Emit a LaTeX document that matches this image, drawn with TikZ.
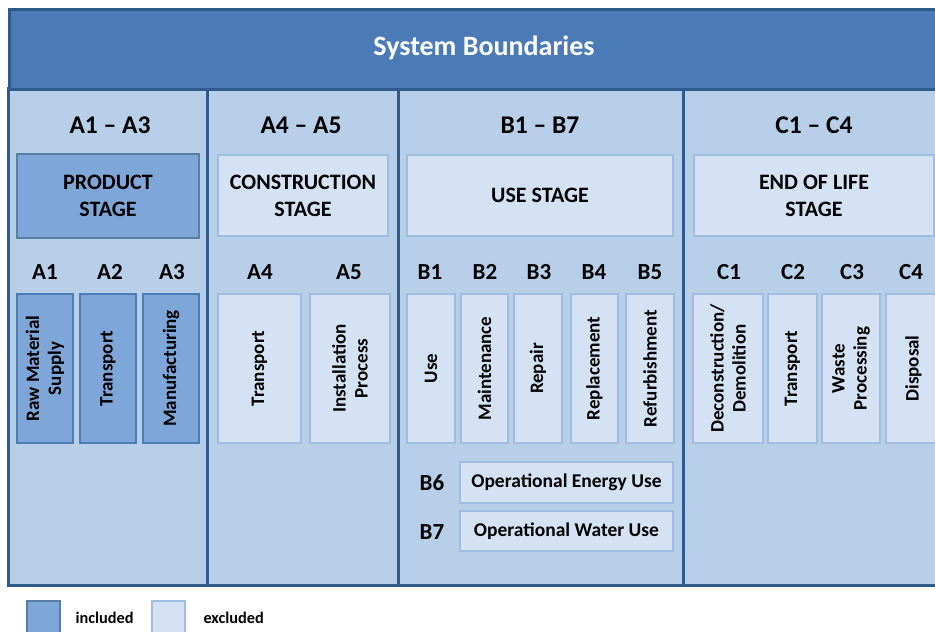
\documentclass[tikz,border=0pt]{standalone}
\usepackage{fontspec}
\setmainfont{Carlito}
\definecolor{frame}{HTML}{2F5B8C}
\definecolor{hdrfill}{HTML}{4B7BB6}
\definecolor{colbg}{HTML}{B8CFEA}
\definecolor{incfill}{HTML}{7EA6D8}
\definecolor{incdraw}{HTML}{4E7CB5}
\definecolor{excfill}{HTML}{D4E2F3}
\definecolor{excdraw}{HTML}{9FBDE0}
\begin{document}
\begin{tikzpicture}[x=1pt,y=-1pt,
  colbox/.style={draw=frame, fill=colbg, line width=3pt, anchor=north west, inner sep=0pt, outer sep=0pt},
  inc/.style={draw=incdraw, fill=incfill, line width=1.5pt, anchor=north west, inner sep=0pt, outer sep=0pt},
  exc/.style={draw=excdraw, fill=excfill, line width=1.5pt, anchor=north west, inner sep=0pt, outer sep=0pt},
  title/.style={font=\fontsize{25.5}{28}\selectfont\bfseries, text=black},
  stagetxt/.style={font=\fontsize{22}{27}\selectfont\bfseries, align=center},
  code/.style={font=\fontsize{23}{26}\selectfont\bfseries},
  vtxt/.style={font=\fontsize{19}{22}\selectfont\bfseries, align=center, rotate=90},
  htxt/.style={font=\fontsize{19.5}{22}\selectfont\bfseries},
  legtxt/.style={font=\fontsize{16.3}{19}\selectfont\bfseries, anchor=west}]
\useasboundingbox (0,0) rectangle (935,632);
\fill[white] (0,0) rectangle (935,632);
% columns
\node[colbox, minimum width=199, minimum height=497] (c1) at (8,88) {};
\node[colbox, minimum width=191, minimum height=497] (c2) at (207,88) {};
\node[colbox, minimum width=285, minimum height=497] (c3) at (398,88) {};
\node[colbox, minimum width=260, minimum height=497] (c4) at (683,88) {};
% header
\node[draw=frame, fill=hdrfill, line width=3pt, anchor=north west, minimum width=935, minimum height=80, inner sep=0pt] (hdr) at (8,8) {};
\node[font=\fontsize{28}{32}\selectfont\bfseries, text=white] (hdrt) at (484,48) {System Boundaries};
% column titles
\node[title] (t1) at (110,125) {A1 -- A3};
\node[title] (t2) at (301,125) {A4 -- A5};
\node[title] (t3) at (540,125) {B1 -- B7};
\node[title] (t4) at (814,125) {C1 -- C4};
% stage boxes
\node[inc, draw=frame!80, minimum width=182, minimum height=84] (s1) at (17,154) {};
\node[stagetxt] at (s1) {PRODUCT\\STAGE};
\node[exc, minimum width=170, minimum height=81] (s2) at (218,155) {};
\node[stagetxt] at (s2) {CONSTRUCTION\\STAGE};
\node[exc, minimum width=266, minimum height=81] (s3) at (407,155) {};
\node[stagetxt] at (s3) {USE STAGE};
\node[exc, minimum width=240, minimum height=81] (s4) at (694,155) {};
\node[stagetxt] at (s4) {END OF LIFE\\STAGE};
% module codes
\node[code] (la1) at (45,272) {A1};
\node[code] (la2) at (110,272) {A2};
\node[code] (la3) at (172,272) {A3};
\node[code] (la4) at (260,272) {A4};
\node[code] (la5) at (349,272) {A5};
\node[code] (lb1) at (430,272) {B1};
\node[code] (lb2) at (485,272) {B2};
\node[code] (lb3) at (539,272) {B3};
\node[code] (lb4) at (594,272) {B4};
\node[code] (lb5) at (650,272) {B5};
\node[code] (lc1) at (729,272) {C1};
\node[code] (lc2) at (793,272) {C2};
\node[code] (lc3) at (852,272) {C3};
\node[code] (lc4) at (911,272) {C4};
% module boxes A
\node[inc, minimum width=56, minimum height=149] (a1) at (17,294) {};
\node[vtxt] at (a1) {Raw Material\\Supply};
\node[inc, minimum width=56, minimum height=149] (a2) at (80,294) {};
\node[vtxt] at (a2) {Transport};
\node[inc, minimum width=56, minimum height=149] (a3) at (143,294) {};
\node[vtxt] at (a3) {Manufacturing};
\node[exc, minimum width=83, minimum height=149] (a4) at (218,294) {};
\node[vtxt] at (a4) {Transport};
\node[exc, minimum width=80, minimum height=149] (a5) at (310,294) {};
\node[vtxt] at (a5) {Installation\\Process};
% module boxes B
\node[exc, minimum width=48, minimum height=149] (b1) at (407,294) {};
\node[vtxt] at (b1) {Use};
\node[exc, minimum width=47, minimum height=149] (b2) at (461,294) {};
\node[vtxt] at (b2) {Maintenance};
\node[exc, minimum width=48, minimum height=149] (b3) at (514,294) {};
\node[vtxt] at (b3) {Repair};
\node[exc, minimum width=47, minimum height=149] (b4) at (571,294) {};
\node[vtxt] at (b4) {Replacement};
\node[exc, minimum width=48, minimum height=149] (b5) at (626,294) {};
\node[vtxt] at (b5) {Refurbishment};
% B6 B7
\node[code] (lb6) at (432,483) {B6};
\node[exc, minimum width=213, minimum height=41] (b6) at (460,462) {};
\node[htxt] at (b6) {Operational Energy Use};
\node[code] (lb7) at (432,532) {B7};
\node[exc, minimum width=213, minimum height=40] (b7) at (460,511) {};
\node[htxt] at (b7) {Operational Water Use};
% module boxes C
\node[exc, minimum width=70, minimum height=149] (cc1) at (693,294) {};
\node[vtxt] at (cc1) {Deconstruction/\\Demolition};
\node[exc, minimum width=49, minimum height=149] (cc2) at (768,294) {};
\node[vtxt] at (cc2) {Transport};
\node[exc, minimum width=58, minimum height=149] (cc3) at (822,294) {};
\node[vtxt] at (cc3) {Waste\\Processing};
\node[exc, minimum width=55, minimum height=149] (cc4) at (886,294) {};
\node[vtxt] at (cc4) {Disposal};
% legend
\node[inc, draw=frame!80, minimum width=33, minimum height=34] (leginc) at (27,601) {};
\node[legtxt] (legit) at (72,618) {included};
\node[exc, minimum width=33, minimum height=34] (legexc) at (152,601) {};
\node[legtxt] (leget) at (200,618) {excluded};
\end{tikzpicture}
\end{document}
